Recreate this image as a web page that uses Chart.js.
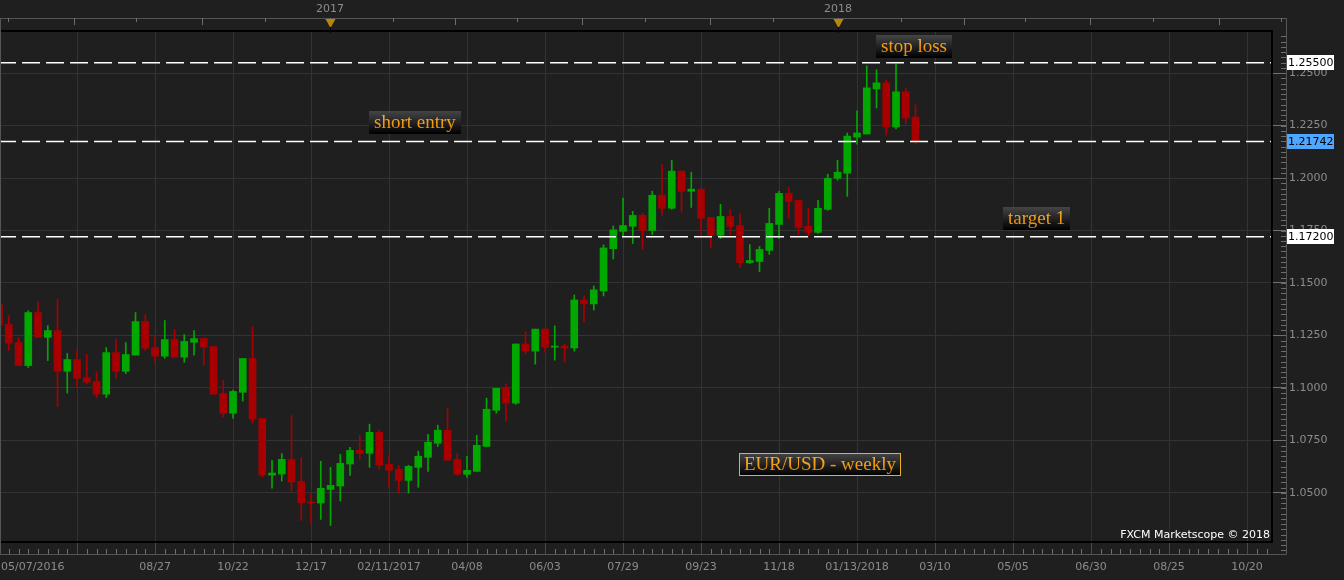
<!DOCTYPE html>
<html>
<head>
<meta charset="utf-8">
<title>EUR/USD weekly</title>
<script src="https://cdn.jsdelivr.net/npm/chart.js@4.4.1/dist/chart.umd.min.js"></script>
<style>
  html, body { margin: 0; padding: 0; background: #1f1f1f; }
  #wrap { width: 1344px; height: 580px; }
</style>
</head>
<body>
<div id="wrap"><canvas id="chart" width="1344" height="580"></canvas></div>
<script>
const FIRST_WEEK = '2016-05-07'; // week index 0

// weekly candles, one entry per week from FIRST_WEEK
const opens = [
  1.1397, 1.1302, 1.1216, 1.1106, 1.1359, 1.1241, 1.1273, 1.1079, 1.1135, 1.1049,
  1.1030, 1.0970, 1.1168, 1.1079, 1.1156, 1.1316, 1.1192, 1.1151, 1.1230, 1.1146,
  1.1217, 1.1235, 1.1197, 1.0973, 1.0879, 1.0979, 1.1140, 1.0854, 1.0584, 1.0589,
  1.0659, 1.0554, 1.0455, 1.0451, 1.0516, 1.0532, 1.0637, 1.0702, 1.0688, 1.0788,
  1.0635, 1.0612, 1.0559, 1.0621, 1.0669, 1.0736, 1.0798, 1.0659, 1.0588, 1.0602,
  1.0721, 1.0893, 1.0998, 1.0927, 1.1209, 1.1175, 1.1280, 1.1194, 1.1199, 1.1190,
  1.1419, 1.1400, 1.1462, 1.1663, 1.1746, 1.1770, 1.1822, 1.1750, 1.1918, 1.1856,
  1.2033, 1.1937, 1.1947, 1.1813, 1.1727, 1.1817, 1.1774, 1.1597, 1.1602, 1.1655,
  1.1779, 1.1927, 1.1894, 1.1770, 1.1741, 1.1851, 1.1999, 1.2023, 1.2195, 1.2210,
  1.2425, 1.2454, 1.2243, 1.2411, 1.2291
];
const highs = [
  1.1405, 1.1344, 1.1238, 1.1368, 1.1411, 1.1297, 1.1421, 1.1164, 1.1181, 1.1159,
  1.1076, 1.1192, 1.1230, 1.1216, 1.1359, 1.1349, 1.1248, 1.1321, 1.1278, 1.1254,
  1.1273, 1.1238, 1.1197, 1.1035, 1.0989, 1.1140, 1.1292, 1.0854, 1.0654, 1.0687,
  1.0868, 1.0668, 1.0498, 1.0650, 1.0621, 1.0683, 1.0717, 1.0774, 1.0827, 1.0798,
  1.0678, 1.0631, 1.0631, 1.0698, 1.0779, 1.0822, 1.0903, 1.0688, 1.0674, 1.0774,
  1.0951, 1.0998, 1.1018, 1.1209, 1.1266, 1.1280, 1.1280, 1.1295, 1.1209, 1.1443,
  1.1438, 1.1486, 1.1682, 1.1772, 1.1904, 1.1841, 1.1832, 1.1937, 1.2066, 1.2085,
  1.2035, 1.2028, 1.1947, 1.1813, 1.1875, 1.1851, 1.1832, 1.1683, 1.1674, 1.1856,
  1.1937, 1.1956, 1.1894, 1.1856, 1.1894, 1.2018, 1.2085, 1.2215, 1.2320, 1.2535,
  1.2516, 1.2468, 1.2545, 1.2430, 1.2349
];
const lows = [
  1.1295, 1.1178, 1.1106, 1.1097, 1.1241, 1.1130, 1.0911, 1.0975, 1.1000, 1.1018,
  1.0954, 1.0954, 1.1046, 1.1068, 1.1156, 1.1178, 1.1124, 1.1141, 1.1146, 1.1122,
  1.1156, 1.1108, 1.0970, 1.0860, 1.0856, 1.0937, 1.0832, 1.0575, 1.0522, 1.0556,
  1.0508, 1.0368, 1.0352, 1.0373, 1.0344, 1.0460, 1.0583, 1.0659, 1.0621, 1.0612,
  1.0526, 1.0498, 1.0498, 1.0526, 1.0602, 1.0721, 1.0655, 1.0583, 1.0573, 1.0602,
  1.0721, 1.0879, 1.0841, 1.0922, 1.1161, 1.1113, 1.1170, 1.1132, 1.1123, 1.1175,
  1.1314, 1.1371, 1.1438, 1.1615, 1.1722, 1.1688, 1.1660, 1.1731, 1.1822, 1.1851,
  1.1837, 1.1860, 1.1722, 1.1669, 1.1712, 1.1731, 1.1573, 1.1593, 1.1554, 1.1636,
  1.1712, 1.1808, 1.1731, 1.1722, 1.1736, 1.1846, 1.1990, 1.1913, 1.2162, 1.2210,
  1.2334, 1.2205, 1.2234, 1.2258, 1.2162
];
const closes = [
  1.1298, 1.1213, 1.1106, 1.1359, 1.1241, 1.1273, 1.1079, 1.1135, 1.1046, 1.1027,
  1.0970, 1.1168, 1.1079, 1.1159, 1.1316, 1.1189, 1.1151, 1.1230, 1.1146, 1.1221,
  1.1235, 1.1194, 1.0970, 1.0879, 1.0983, 1.1140, 1.0851, 1.0584, 1.0594, 1.0659,
  1.0551, 1.0451, 1.0451, 1.0521, 1.0535, 1.0640, 1.0702, 1.0688, 1.0788, 1.0631,
  1.0607, 1.0559, 1.0626, 1.0674, 1.0741, 1.0798, 1.0655, 1.0588, 1.0607, 1.0726,
  1.0898, 1.0998, 1.0927, 1.1209, 1.1175, 1.1280, 1.1194, 1.1199, 1.1190, 1.1419,
  1.1400, 1.1467, 1.1667, 1.1753, 1.1774, 1.1822, 1.1750, 1.1918, 1.1856, 1.2033,
  1.1937, 1.1947, 1.1808, 1.1727, 1.1817, 1.1770, 1.1597, 1.1607, 1.1660, 1.1784,
  1.1927, 1.1889, 1.1765, 1.1741, 1.1856, 1.1999, 1.2028, 1.2200, 1.2215, 1.2430,
  1.2454, 1.2243, 1.2411, 1.2286, 1.2174
];

// bottom axis: gridline weeks and their labels
const axisWeeks  = [0, 8, 16, 24, 32, 40, 48, 56, 64, 72, 80, 88, 96, 104, 112, 120, 128];
const axisLabels = ['05/07/2016', '', '08/27', '10/22', '12/17', '02/11/2017', '04/08', '06/03',
                    '07/29', '09/23', '11/18', '01/13/2018', '03/10', '05/05', '06/30', '08/25', '10/20'];
// right axis
const priceTicks = [1.05, 1.075, 1.10, 1.125, 1.15, 1.175, 1.20, 1.225, 1.25];
// top axis years
const yearLabels = ['2017', '2018'];
const yearDates  = ['2017-01-01', '2018-01-01'];

// trade levels drawn as dashed lines
const levelValues = [1.25500, 1.21742, 1.17200];
const levelBoxColors = ['#ffffff', '#4da6ff', '#ffffff'];

// text notes (left edge week, centre price)
const noteTexts  = ['short entry', 'stop loss', 'target 1', 'EUR/USD - weekly'];
const noteWeeks  = [37.95, 89.95, 102.95, 75.9];
const notePrices = [1.2267, 1.2629, 1.1809, 1.0637];
const noteFramed = [false, false, false, true];

const UP = '#00a800';
const DOWN = '#a80000';
const BG = '#1f1f1f';
const GRID = '#333333';
const FRAME = '#555555';
const TICK = '#6e6e6e';
const LABEL = '#8c8c8c';
const X_MIN = 0.1, X_MAX = 130.46;
const Y_MIN = 1.0270, Y_MAX = 1.2701;

Chart.defaults.font.family = '"DejaVu Sans", Verdana, sans-serif';
Chart.defaults.font.size = 11;

function weekOf(dateStr) {
  const days = (Date.parse(dateStr) - Date.parse(FIRST_WEEK)) / 86400000;
  return days / 7 - 0.2;
}

const candleColors = opens.map((o, i) => closes[i] >= o ? UP : DOWN);

const frame = {
  id: 'frame',
  beforeDraw(chart) {
    const { ctx, width, height } = chart;
    ctx.save();
    ctx.fillStyle = BG;
    ctx.fillRect(0, 0, width, height);
    ctx.restore();
  },
  afterDraw(chart) {
    const { ctx, chartArea: a } = chart;
    const xs = chart.scales.x, ys = chart.scales.y;
    const axisX = a.right + 15, topY = 18, botY = 554;
    ctx.save();

    // outer gray frame
    ctx.strokeStyle = FRAME;
    ctx.lineWidth = 1;
    ctx.beginPath();
    ctx.moveTo(0, topY + 0.5); ctx.lineTo(axisX + 0.5, topY + 0.5);
    ctx.moveTo(axisX + 0.5, topY); ctx.lineTo(axisX + 0.5, botY + 0.5);
    ctx.moveTo(0, botY + 0.5); ctx.lineTo(axisX + 0.5, botY + 0.5);
    ctx.moveTo(0.5, topY); ctx.lineTo(0.5, botY);
    ctx.stroke();

    // top axis ticks: quarter starts (long) and mid quarters (short)
    ctx.strokeStyle = TICK;
    ctx.beginPath();
    for (let y = 2016; y <= 2018; y++) {
      [['01-01', 7], ['02-15', 4], ['04-01', 7], ['05-15', 4],
       ['07-01', 7], ['08-15', 4], ['10-01', 7], ['11-15', 4]].forEach(([md, len]) => {
        const x = Math.round(xs.getPixelForValue(weekOf(y + '-' + md))) + 0.5;
        if (x < 2 || x > axisX - 2) return;
        ctx.moveTo(x, topY); ctx.lineTo(x, topY + len);
      });
    }
    ctx.stroke();

    // year markers
    ctx.font = '11px "DejaVu Sans", Verdana, sans-serif';
    ctx.textAlign = 'center';
    ctx.textBaseline = 'middle';
    yearLabels.forEach((lab, i) => {
      const x = Math.round(xs.getPixelForValue(weekOf(yearDates[i])));
      ctx.fillStyle = LABEL;
      ctx.fillText(lab, x, 9);
      ctx.fillStyle = '#b8860b';
      ctx.beginPath();
      ctx.moveTo(x - 4.5, topY + 1); ctx.lineTo(x + 5.5, topY + 1); ctx.lineTo(x + 0.5, topY + 10);
      ctx.closePath(); ctx.fill();
      ctx.strokeStyle = '#000';
      ctx.beginPath(); ctx.moveTo(x + 0.5, topY + 9); ctx.lineTo(x + 0.5, a.top + 2); ctx.stroke();
    });

    // weekly ticks on the bottom axis
    ctx.strokeStyle = TICK;
    ctx.beginPath();
    for (let w = 1; w < X_MAX; w++) {
      if (w % 8 === 0) continue;
      const x = Math.round(xs.getPixelForValue(w)) + 0.5;
      ctx.moveTo(x, botY - 5); ctx.lineTo(x, botY);
    }
    ctx.stroke();

    // minor ticks on the price axis
    ctx.beginPath();
    for (let k = 409; k <= 507; k++) {
      const y = Math.round(ys.getPixelForValue(k * 0.0025)) + 0.5;
      ctx.moveTo(axisX - 5, y); ctx.lineTo(axisX, y);
    }
    ctx.stroke();

    // black plot border
    ctx.strokeStyle = '#000';
    ctx.lineWidth = 2;
    ctx.beginPath();
    ctx.moveTo(1, a.top); ctx.lineTo(a.right + 1, a.top);
    ctx.lineTo(a.right + 1, a.bottom + 1); ctx.lineTo(1, a.bottom + 1);
    ctx.stroke();

    // first date label, left aligned
    ctx.fillStyle = LABEL;
    ctx.textAlign = 'left';
    ctx.fillText(axisLabels[0], 1, 567);

    // level value boxes on the price axis
    levelValues.forEach((v, i) => {
      const y = Math.round(ys.getPixelForValue(v));
      ctx.fillStyle = levelBoxColors[i];
      ctx.fillRect(axisX + 1, y - 8, 47, 15);
      ctx.fillStyle = '#000';
      ctx.fillText(v.toFixed(5), axisX + 2, y);
    });

    // notes
    noteTexts.forEach((t, i) => {
      ctx.font = '19px "Liberation Serif", "Times New Roman", serif';
      const left = Math.round(xs.getPixelForValue(noteWeeks[i]));
      const cy = Math.round(ys.getPixelForValue(notePrices[i]));
      const w = Math.round(ctx.measureText(t).width) + 10, h = 23;
      const top = cy - 11;
      const g = ctx.createLinearGradient(0, top, 0, top + h);
      g.addColorStop(0, '#454545');
      g.addColorStop(1, '#000000');
      ctx.fillStyle = g;
      ctx.fillRect(left, top, w, h);
      if (noteFramed[i]) {
        ctx.strokeStyle = '#e6b125';
        ctx.lineWidth = 1;
        ctx.strokeRect(left + 0.5, top + 0.5, w - 1, h - 1);
      }
      const tg = ctx.createLinearGradient(0, top + 4, 0, top + h - 4);
      tg.addColorStop(0, '#ffb32a');
      tg.addColorStop(1, '#e88400');
      ctx.fillStyle = tg;
      ctx.textBaseline = 'middle';
      ctx.fillText(t, left + 5, cy + 1);
    });

    // watermark
    ctx.font = '11px "DejaVu Sans", Verdana, sans-serif';
    ctx.fillStyle = '#ffffff';
    ctx.textAlign = 'right';
    ctx.fillText('FXCM Marketscope \u00a9 2018', a.right - 1, 535);

    ctx.restore();
  }
};

const levelSets = levelValues.map(v => ({
  type: 'line',
  data: [{ x: X_MIN - 0.2, y: v }, { x: X_MAX + 0.2, y: v }],
  borderColor: '#ffffff',
  borderWidth: 1.5,
  borderDash: [18, 6],
  pointRadius: 0,
  order: 0,
}));

new Chart(document.getElementById('chart'), {
  type: 'bar',
  data: {
    datasets: [
      {
        label: 'wicks',
        data: lows.map((l, i) => ({ x: i, y: [l, highs[i]] })),
        backgroundColor: candleColors,
        barThickness: 1,
        grouped: false,
        order: 2,
      },
      {
        label: 'bodies',
        data: opens.map((o, i) => ({ x: i, y: [o, closes[i]] })),
        backgroundColor: candleColors,
        barThickness: 7,
        minBarLength: 1,
        grouped: false,
        order: 1,
      },
      ...levelSets,
    ],
  },
  options: {
    responsive: false,
    animation: false,
    events: [],
    layout: { padding: 0 },
    plugins: { legend: { display: false }, tooltip: { enabled: false } },
    scales: {
      x: {
        type: 'linear',
        position: 'bottom',
        min: X_MIN,
        max: X_MAX,
        offset: false,
        afterFit: s => { s.height = 39; },
        afterBuildTicks: s => { s.ticks = axisWeeks.slice(1).map(v => ({ value: v })); },
        ticks: {
          autoSkip: false,
          maxRotation: 0,
          color: LABEL,
          padding: 7,
          callback: v => axisLabels[axisWeeks.indexOf(v)] || '',
        },
        grid: { color: GRID, offset: false, tickColor: '#4a4a4a', tickLength: 13 },
        border: { display: false },
      },
      xTop: {
        type: 'linear',
        position: 'top',
        min: X_MIN,
        max: X_MAX,
        offset: false,
        afterFit: s => { s.height = 31; },
        ticks: { display: false },
        grid: { display: false, drawTicks: false },
        border: { display: false },
      },
      y: {
        type: 'linear',
        position: 'right',
        min: Y_MIN,
        max: Y_MAX,
        afterFit: s => { s.width = 73; },
        afterBuildTicks: s => { s.ticks = priceTicks.map(v => ({ value: v })); },
        ticks: { color: LABEL, padding: 3, callback: v => v.toFixed(4) },
        grid: { color: GRID, tickColor: TICK, tickLength: 15 },
        border: { display: false },
      },
    },
  },
  plugins: [frame],
});
</script>
</body>
</html>
